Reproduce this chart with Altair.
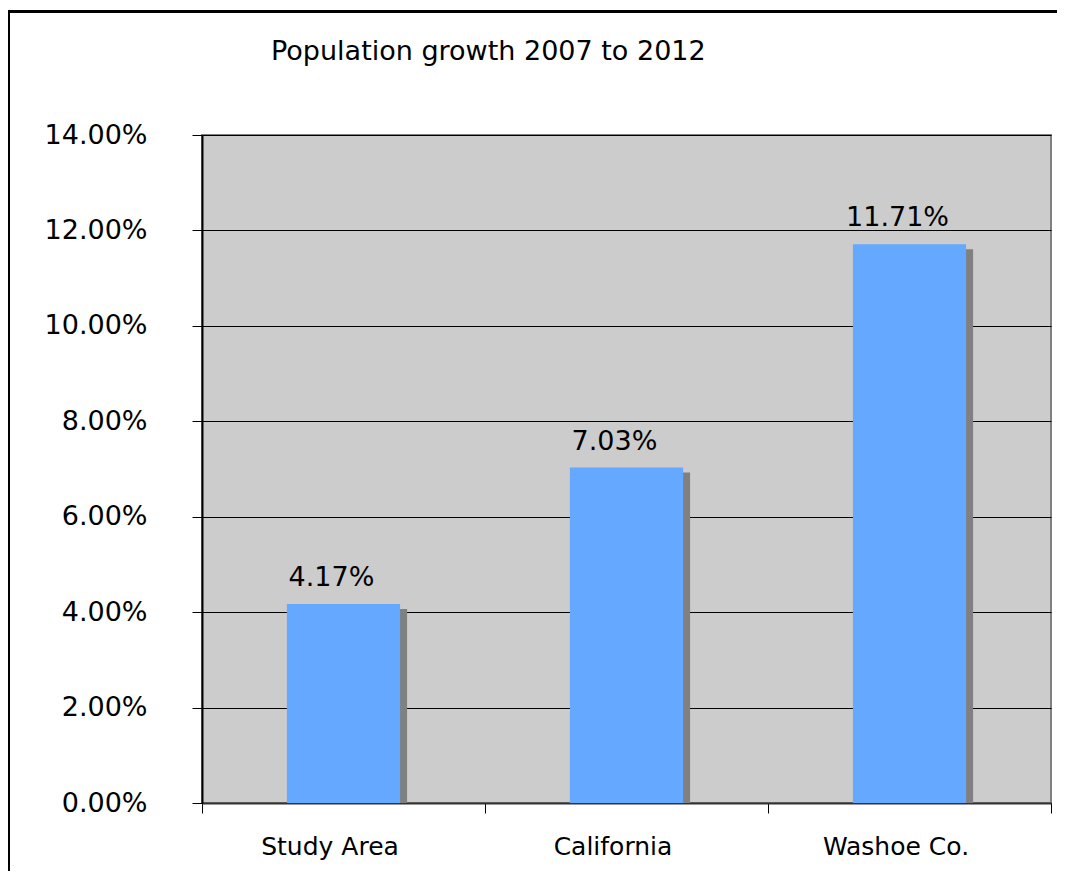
import altair as alt
import pandas as pd

categories = ["Study Area", "California", "Washoe Co."]
growth = [0.0417, 0.0703, 0.1171]
labels = ["4.17%", "7.03%", "11.71%"]
title_text = "Population growth 2007 to 2012"

df = pd.DataFrame({"cat": categories, "val": growth, "lab": labels})

FONT = "DejaVu Sans"

x_enc = alt.X("cat:N", sort=None, title=None,
              scale=alt.Scale(paddingInner=0, paddingOuter=0),
              axis=alt.Axis(labelAngle=0, tickBand="extent", ticks=True, tickSize=10,
                            tickColor="black", domainColor="#333333", domainWidth=2,
                            labelFontSize=25, labelFont=FONT, labelColor="black",
                            labelPadding=41, labelBaseline="alphabetic", labelOffset=-14,
                            grid=False))
y_enc = alt.Y("val:Q", title=None,
              scale=alt.Scale(domain=[0, 0.14], nice=False),
              axis=alt.Axis(format=".2%", values=[0, 0.02, 0.04, 0.06, 0.08, 0.10, 0.12, 0.14],
                            tickSize=10, tickColor="black", domainColor="black", domainWidth=2,
                            grid=True, gridColor="black", gridWidth=1, gridOpacity=1,
                            labelFontSize=27, labelFont=FONT, labelColor="black",
                            labelPadding=45))

base = alt.Chart(df)

shadow = base.mark_bar(color="#808080", width=alt.RelativeBandSize(0.4),
                       xOffset=7, yOffset=5, clip=True).encode(x=x_enc, y=y_enc)
bars = base.mark_bar(color="#64A8FF", width=alt.RelativeBandSize(0.4)).encode(x=x_enc, y=y_enc)
text = base.mark_text(font=FONT, fontSize=27, color="black", baseline="alphabetic",
                      dy=-18, dx=-12).encode(x=x_enc, y=y_enc, text="lab:N")

one = alt.Chart(pd.DataFrame({"t": [title_text]}))
border = one.mark_rect(fill=None, stroke="black", strokeWidth=3).encode(
    x=alt.value(-193.5), y=alt.value(-123.5), x2=alt.value(2000), y2=alt.value(2000))
title = one.mark_text(font=FONT, fontSize=27, color="black", align="left",
                      baseline="alphabetic").encode(
    x=alt.value(69), y=alt.value(-75), text="t:N")

chart = alt.layer(border, shadow, bars, text, title).properties(
    width=849, height=668,
    autosize=alt.AutoSizeParams(type="none"),
    padding={"left": 194, "top": 127, "right": 6, "bottom": 68},
    background="white",
).configure_view(fill="#CCCCCC", stroke="#808080", strokeWidth=2)

chart.save("out.html", embed_options={"renderer": "svg", "actions": False})
